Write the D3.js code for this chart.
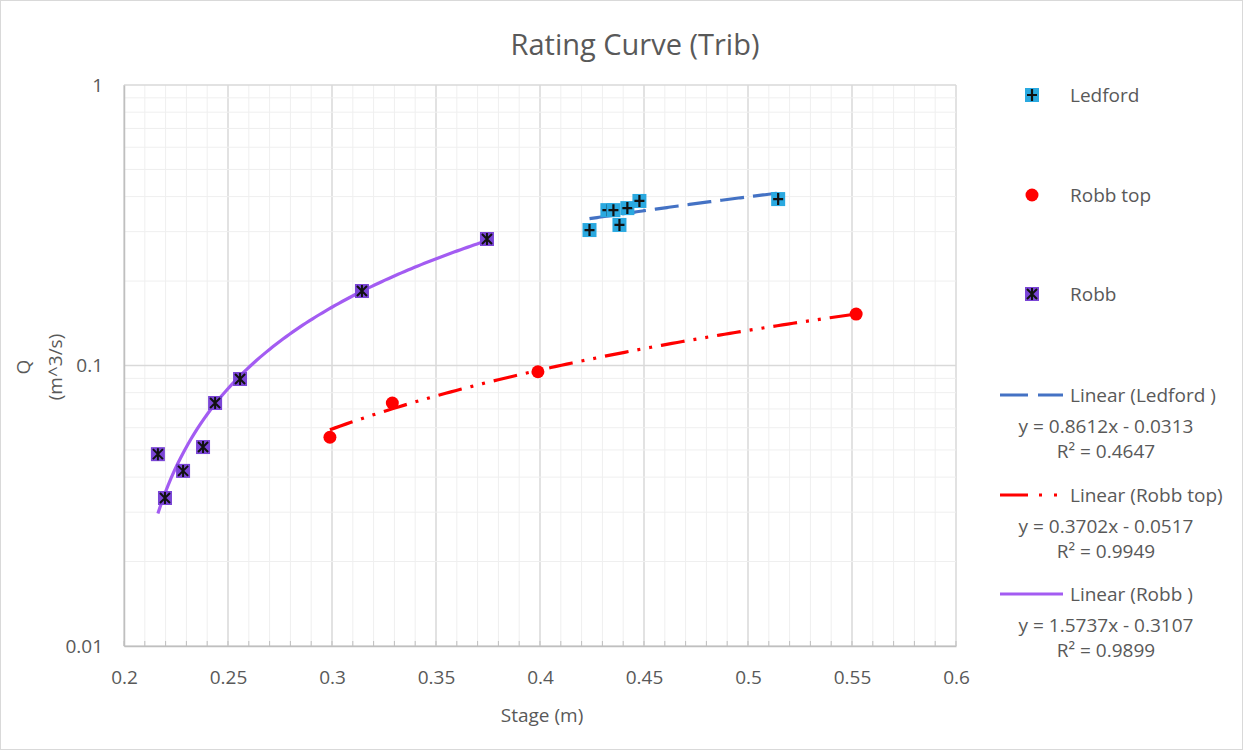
<!DOCTYPE html>
<html>
<head>
<meta charset="utf-8">
<script src="https://cdn.jsdelivr.net/npm/d3@7"></script>
<style>
  html, body { margin: 0; padding: 0; background: #fff; }
  text { font-family: "Open Sans", "Noto Sans", sans-serif; fill: #595959; }
</style>
</head>
<body>
<svg id="chart" width="1243" height="750"></svg>
<script>
// Stage (m) and discharge Q (m^3/s) for each gauge
const ledfordStage = [0.4238, 0.4324, 0.4353, 0.4382, 0.4420, 0.4478, 0.5145];
const ledfordQ     = [0.304, 0.358, 0.358, 0.317, 0.364, 0.386, 0.392];

const robbTopStage = [0.299, 0.329, 0.399, 0.552];
const robbTopQ     = [0.0555, 0.0735, 0.0950, 0.1525];

const robbStage = [0.2163, 0.2197, 0.2284, 0.2380, 0.2438, 0.2558, 0.3144, 0.3745];
const robbQ     = [0.0483, 0.0337, 0.0421, 0.0512, 0.0735, 0.0895, 0.1843, 0.2825];

// Linear trendline coefficients (y = slope * x + intercept) and fit quality
const trendNames     = ["Linear (Ledford )", "Linear (Robb top)", "Linear (Robb )"];
const trendSlope     = [0.8612, 0.3702, 1.5737];
const trendIntercept = [-0.0313, -0.0517, -0.3107];
const trendR2        = ["0.4647", "0.9949", "0.9899"];

const seriesNames = ["Ledford", "Robb top", "Robb"];

const xTicks = [0.2, 0.25, 0.3, 0.35, 0.4, 0.45, 0.5, 0.55, 0.6];
const yTicks = [0.01, 0.1, 1];

const svg = d3.select("#chart");
const W = 1243, H = 750;
const plot = { left: 124, right: 956, top: 85, bottom: 646 };
const FS = 19;

svg.append("rect").attr("x", 0.5).attr("y", 0.5).attr("width", W - 1).attr("height", H - 1)
  .attr("fill", "#fff").attr("stroke", "#d9d9d9");

const x = d3.scaleLinear().domain([0.2, 0.6]).range([plot.left, plot.right]);
const y = d3.scaleLog().domain([0.01, 1]).range([plot.bottom, plot.top]);

// Grid: minor every 0.01 / every integer multiple within a decade, major on labelled ticks
const grid = svg.append("g");
d3.range(20, 61).map(v => v / 100).forEach(v => {
  const major = Math.abs(v * 20 - Math.round(v * 20)) < 1e-6;
  grid.append("line").attr("x1", x(v)).attr("x2", x(v)).attr("y1", plot.top).attr("y2", plot.bottom)
    .attr("stroke", major ? "#d9d9d9" : "#efefef").attr("stroke-width", major ? 1.5 : 1);
});
[0.01, 0.1].forEach(dec => {
  d3.range(2, 10).forEach(m => {
    const v = dec * m;
    grid.append("line").attr("x1", plot.left).attr("x2", plot.right).attr("y1", y(v)).attr("y2", y(v))
      .attr("stroke", "#efefef").attr("stroke-width", 1);
  });
});
yTicks.forEach(v => {
  grid.append("line").attr("x1", plot.left).attr("x2", plot.right).attr("y1", y(v)).attr("y2", y(v))
    .attr("stroke", "#d9d9d9").attr("stroke-width", 1.5);
});

// Axes
const xAxis = svg.append("g").attr("transform", `translate(0,${plot.bottom})`)
  .call(d3.axisBottom(x).tickValues(xTicks).tickFormat(d => String(+d.toFixed(2))).tickSize(0).tickPadding(25));
xAxis.select(".domain").attr("stroke", "#bfbfbf").attr("stroke-width", 1.5);
xAxis.selectAll("text").style("font-size", FS + "px").attr("fill", "#595959");
// inward minor tick marks along the bottom axis
d3.range(20, 61).forEach(i => {
  svg.append("line").attr("x1", x(i / 100)).attr("x2", x(i / 100))
    .attr("y1", plot.bottom).attr("y2", plot.bottom - 5).attr("stroke", "#bfbfbf");
});

const yAxis = svg.append("g").attr("transform", `translate(${plot.left},0)`)
  .call(d3.axisLeft(y).tickValues(yTicks).tickFormat(d => String(d)).tickSize(0).tickPadding(21));
yAxis.select(".domain").attr("stroke", "#bfbfbf").attr("stroke-width", 1.5);
yAxis.selectAll("text").style("font-size", FS + "px").attr("fill", "#595959");

// Titles
svg.append("text").attr("x", 635).attr("y", 55).attr("text-anchor", "middle")
  .style("font-size", "29px").text("Rating Curve (Trib)");
svg.append("text").attr("x", 542).attr("y", 722).attr("text-anchor", "middle")
  .style("font-size", FS + "px").text("Stage (m)");
const yt = svg.append("text").attr("transform", "translate(0,367) rotate(-90)").attr("text-anchor", "middle")
  .style("font-size", FS + "px");
yt.append("tspan").attr("x", 0).attr("y", 30).text("Q");
yt.append("tspan").attr("x", 0).attr("y", 62).text("(m^3/s)");

// Trendlines
const trendStyles = [
  { color: "#4472c4", dash: "24,9" },
  { color: "#ff0000", dash: "24,9,3,9,3,9" },
  { color: "#a35cf2", dash: null }
];
const stages = [ledfordStage, robbTopStage, robbStage];
const line = d3.line().x(d => x(d[0])).y(d => y(d[1]));
stages.forEach((s, i) => {
  const [lo, hi] = d3.extent(s);
  const pts = d3.range(0, 101).map(k => {
    const xv = lo + (hi - lo) * k / 100;
    return [xv, trendSlope[i] * xv + trendIntercept[i]];
  });
  svg.append("path").attr("d", line(pts)).attr("fill", "none")
    .attr("stroke", trendStyles[i].color).attr("stroke-width", 3.2)
    .attr("stroke-dasharray", trendStyles[i].dash);
});

// Markers
function plusMarker(g, cx, cy) {
  g.append("rect").attr("x", cx - 7).attr("y", cy - 7).attr("width", 14).attr("height", 14)
    .attr("fill", "#2aa9e0");
  g.append("path").attr("d", `M${cx - 5},${cy}H${cx + 5}M${cx},${cy - 6}V${cy + 6}`)
    .attr("stroke", "#111").attr("stroke-width", 2.2);
}
function circleMarker(g, cx, cy) {
  g.append("circle").attr("cx", cx).attr("cy", cy).attr("r", 6.5).attr("fill", "#ff0000");
}
function starMarker(g, cx, cy) {
  g.append("rect").attr("x", cx - 7).attr("y", cy - 7).attr("width", 14).attr("height", 14)
    .attr("fill", "#7a45d6");
  g.append("path").attr("d", `M${cx - 5},${cy - 5}L${cx + 5},${cy + 5}M${cx + 5},${cy - 5}L${cx - 5},${cy + 5}M${cx},${cy - 6}V${cy + 6}`)
    .attr("stroke", "#111").attr("stroke-width", 2);
}
const markers = [plusMarker, circleMarker, starMarker];
const qs = [ledfordQ, robbTopQ, robbQ];
const mg = svg.append("g");
[2, 1, 0].forEach(i => {
  stages[i].forEach((s, k) => markers[i](mg, x(s), y(qs[i][k])));
});

// Legend: series
const legendY = [95, 195, 294];
seriesNames.forEach((n, i) => {
  markers[i](svg, 1032, legendY[i]);
  svg.append("text").attr("x", 1070).attr("y", legendY[i] + 7).style("font-size", FS + "px").text(n);
});

// Legend: trendlines with equations
const trendLegendY = [395, 495, 594];
const legendDash = ["28,10", "28,11,3,12,3,10", null];
trendNames.forEach((n, i) => {
  const ty = trendLegendY[i];
  svg.append("line").attr("x1", 1000).attr("x2", 1063).attr("y1", ty).attr("y2", ty)
    .attr("stroke", trendStyles[i].color).attr("stroke-width", 3.2)
    .attr("stroke-dasharray", legendDash[i]);
  svg.append("text").attr("x", 1070).attr("y", ty + 7).style("font-size", FS + "px").text(n);
  const eq = `y = ${trendSlope[i].toFixed(4)}x - ${Math.abs(trendIntercept[i]).toFixed(4)}`;
  svg.append("text").attr("x", 1106).attr("y", ty + 38).attr("text-anchor", "middle")
    .style("font-size", FS + "px").text(eq);
  svg.append("text").attr("x", 1106).attr("y", ty + 63).attr("text-anchor", "middle")
    .style("font-size", FS + "px").text("R² = " + trendR2[i]);
});
</script>
</body>
</html>
